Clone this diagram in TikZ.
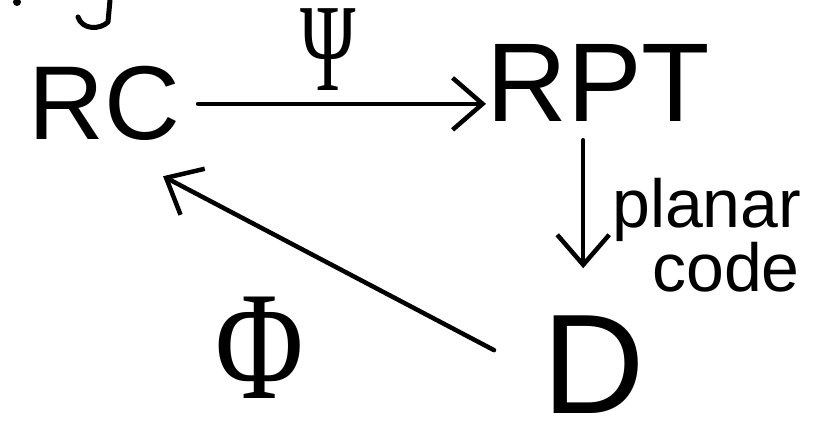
\documentclass[tikz,border=0pt]{standalone}
\usepackage{fontspec}
\setmainfont{Liberation Sans}
\newfontfamily\grkfont{Liberation Serif}
\usetikzlibrary{arrows.meta,calc}
\tikzset{
  lbl/.style={inner sep=0pt, anchor=base west},
  arr/.style={line width=4.5pt, line cap=round, -{Straight Barb[length=30pt, width=52pt, line width=4.5pt]}},
  ink/.style={line width=5pt, line cap=round, line join=round}
}
\begin{document}
\begin{tikzpicture}[x=1pt,y=-1pt]
\useasboundingbox (0,0) rectangle (828,427);
% cut-off handwriting at the top-left edge
\draw[ink] (78,17) .. controls (82,30) and (100,30) .. (108,22) -- (110,0);
\fill (17,2) circle (4pt);
% nodes
\node[lbl, font=\fontsize{105}{105}\selectfont] (RC) at (28,140) {RC};
\node[lbl, font=\fontsize{112}{112}\selectfont] (RPT) at (486,122) {RPT};
\node[lbl, font=\fontsize{142}{142}\selectfont] (D) at (542,414) {D};
% labels
\node[inner sep=0pt, font=\grkfont\fontsize{125}{125}\selectfont] (psi) at (328,50) {\scalebox{0.6}[1]{Ψ}};
\node[inner sep=0pt, font=\grkfont\fontsize{155}{155}\selectfont] (phi) at (260,348) {\scalebox{0.78}[1]{Φ}};
\node[inner sep=0pt, align=left, anchor=north west, font=\fontsize{68}{38}\selectfont] (pc) at (612,178) {planar\\\hspace*{40pt}code};
% connectors
\draw[arr, shorten <=18pt] (RC.east) -- (RC.east -| RPT.west);
\draw[arr] ($(RPT.south)+(-15,18)$) -- ($(RPT.south)+(-15,146)$);
\draw[arr] ($(D.west)+(-48,-15)$) -- ($(RC.south east)+(-17,35)$);
\end{tikzpicture}
\end{document}
